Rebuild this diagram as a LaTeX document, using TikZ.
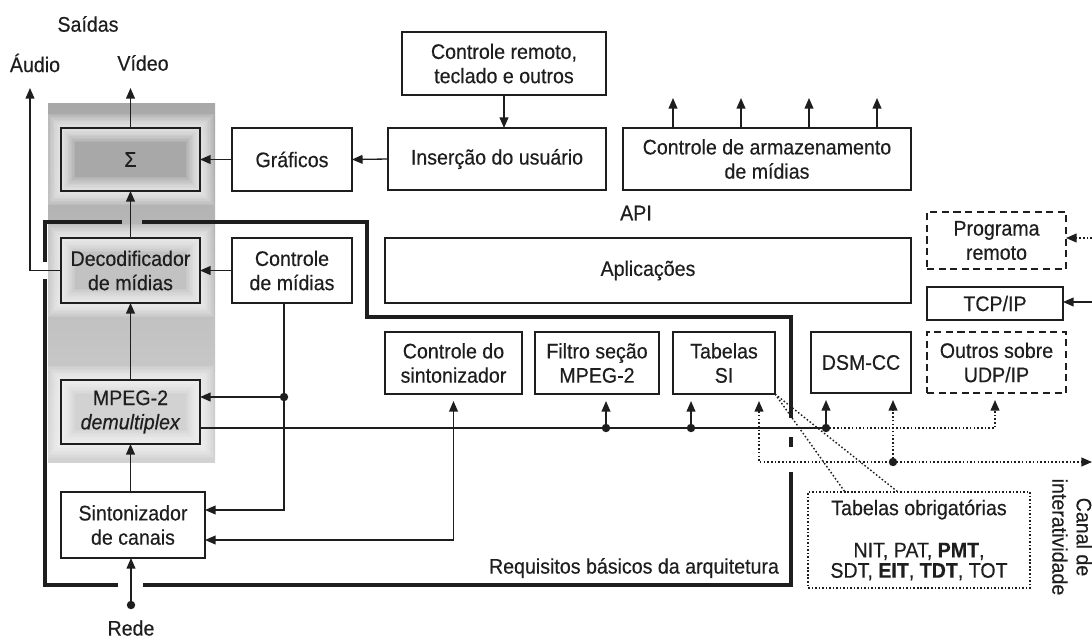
\documentclass[tikz,border=0pt]{standalone}
\usepackage{fontspec}
\setmainfont[FakeStretch=0.93,FakeBold=0.35]{Liberation Sans}
\usetikzlibrary{arrows.meta}
\definecolor{ink}{HTML}{1E1E1E}
\definecolor{gA}{HTML}{A8A8A8}
\definecolor{gB}{HTML}{C2C2C2}
\definecolor{gC}{HTML}{D2D2D2}
\begin{document}
\begin{tikzpicture}[x=0.02cm,y=-0.02cm,
  every node/.style={font=\fontsize{12}{13.8}\selectfont, text=ink},
  box/.style 2 args={draw=ink, line width=0.8pt, inner sep=0pt, outer sep=0pt,
    align=center, minimum width=#1*0.02cm, minimum height=#2*0.02cm},
  gl/.style={preaction={draw=white, line width=#1, draw opacity=0.11}},
  glow/.style={preaction={fill=#1},
    gl=16pt, gl=14.4pt, gl=12.8pt, gl=11.2pt, gl=9.6pt,
    gl=8pt, gl=6.4pt, gl=4.8pt, gl=3.2pt, gl=1.6pt},
  dashbox/.style={dash pattern=on 4pt off 2.6pt},
  dotbox/.style={dash pattern=on 0.9pt off 1.1pt},
  lab/.style={inner sep=0pt},
  arr/.style={-{Triangle[length=6pt,width=5pt]}, draw=ink, line width=0.75pt},
  barr/.style={{Triangle[length=6pt,width=5pt]}-{Triangle[length=6pt,width=5pt]}, draw=ink, line width=0.75pt},
  ln/.style={draw=ink, line width=0.75pt},
  dotln/.style={draw=ink, line width=0.8pt, dash pattern=on 0.9pt off 1.2pt},
  frame/.style={draw=ink, line width=2.2pt, line join=miter},
  dotc/.style={fill=ink}
]
\useasboundingbox (0,0) rectangle (1092,640);
\fill[white] (0,0) rectangle (1092,640);

% gray region
\shade[top color=gA, middle color=gB, bottom color=gC] (48,103) rectangle (215,462);

% boxes in the gray region
\node[box={139}{63}, glow=gA] (sig) at (130.5,159.5) {Σ};
\node[box={139}{65}, glow=gB] (dec) at (130.5,270.5) {Decodificador\\de mídias};
\node[box={139}{64}, glow=gC] (mpeg) at (130.5,412) {MPEG-2\\\textit{demultiplex}};

% other boxes
\node[box={144}{66}, fill=white] (sint) at (133,525) {Sintonizador\\de canais};
\node[box={120}{63}] (graf) at (292,159.5) {Gráficos};
\node[box={218}{62}] (ins) at (497,159) {Inserção do usuário};
\node[box={204}{63}] (crem) at (504,63.5) {Controle remoto,\\teclado e outros};
\node[box={288}{62}] (arm) at (767,159) {Controle de armazenamento\\de mídias};
\node[box={526}{65}] (apl) at (648,270.5) {Aplicações};
\node[box={120}{65}] (cmid) at (292,270.5) {Controle\\de mídias};
\node[box={137}{62}] (csin) at (453.5,363) {Controle do\\sintonizador};
\node[box={124}{62}] (filt) at (597,363) {Filtro seção\\MPEG-2};
\node[box={102}{62}] (tsi) at (724,363) {Tabelas\\SI};
\node[box={100}{61}] (dsm) at (861,362.5) {DSM-CC};
\node[box={139}{61}, dashbox] (outr) at (996.5,362.5) {Outros sobre\\UDP/IP};
\node[box={136}{33}] (tcp) at (995,303.5) {TCP/IP};
\node[box={139}{57}, dashbox] (prog) at (996.5,240.5) {Programa\\remoto};
\node[box={222}{96}, dotbox, font=\fontsize{12}{11.6}\selectfont] (tob) at (919,540)
  {Tabelas obrigatórias\\[12.4pt]NIT, PAT, \textbf{PMT},\\SDT, \textbf{EIT}, \textbf{TDT}, TOT};

% labels
\node[lab] (saidas) at (88,24) {Saídas};
\node[lab] (audiol) at (35,63) {Áudio};
\node[lab] (videol) at (143,63) {Vídeo};
\node[lab] (api) at (636,213) {API};
\node[lab] (rede) at (131,628) {Rede};
\node[lab] (req) at (634,568) {Requisitos básicos da arquitetura};
\node[lab, rotate=-90, align=center] (canal) at (1072,537) {Canal de\\interatividade};

% frame of basic requirements
\draw[frame] (142,222) -- (367,222) -- (367,317) -- (791,317) -- (791,418);
\draw[frame] (791,437) -- (791,447);
\draw[frame] (791,472) -- (791,585) -- (143,585);
\draw[frame] (118,585) -- (45,585) -- (45,279);
\draw[frame] (45,262) -- (45,222) -- (122,222);

% coordinates
\coordinate (audio) at (30,88);
\coordinate (video) at (130.5,88);
\coordinate (j1) at (284,397);
\coordinate (cs) at (284,510);
\coordinate (cs2) at (453.5,540);
\coordinate (busL) at (200,428);
\coordinate (d1) at (606,428);
\coordinate (d2) at (691,428);
\coordinate (d3) at (826,428);
\coordinate (o1) at (995,428);
\coordinate (e0) at (759,462);
\coordinate (e1) at (893,462);
\coordinate (eR) at (1092,462);
\coordinate (r1) at (1092,302);
\coordinate (r2) at (1092,238);
\coordinate (c1) at (845,492);
\coordinate (c2) at (898,492);
\coordinate (redeDot) at (131,605);

% connectors
\draw[arr] (dec.west) -| (audio);
\draw[arr] (sig.north) -- (video);
\draw[arr] (graf.west) -- (sig.east);
\draw[arr] (ins.west) -- (graf.east);
\draw[arr] (crem.south) -- (crem.south |- ins.north);
\foreach \xx in {673,741,809,877}
  \draw[arr] (arm.north -| \xx,0) -- (\xx,98);
\draw[arr] (dec.north) -- (sig.south);
\draw[arr] (cmid.west) -- (dec.east);
\draw[arr] (mpeg.north) -- (dec.south);
\draw[arr] (mpeg.south |- sint.north) -- (mpeg.south);
\draw[arr] (cmid.south -| cs) -- (cs) -- (cs -| sint.east);
\draw[arr] (j1) -- (j1 -| mpeg.east);
\fill[dotc] (j1) circle (2.4pt);
\draw[barr, shorten >=4pt] (cs2 -| sint.east) -- (cs2) -- (csin.south);
\draw[arr] (redeDot) -- (redeDot |- sint.south);
\fill[dotc] (redeDot) circle (2.4pt);

% bus
\draw[ln] (busL) -- (d3);
\draw[arr, shorten >=4pt] (d1) -- (d1 |- filt.south);
\draw[arr, shorten >=4pt] (d2) -- (d2 |- tsi.south);
\draw[arr, shorten >=4pt] (d3) -- (d3 |- dsm.south);
\foreach \p in {d1,d2,d3} \fill[dotc] (\p) circle (2.4pt);
\draw[dotln, -{Triangle[length=6pt,width=5pt]}, shorten >=4pt] (d3) -- (o1) -- (o1 |- outr.south);
\draw[dotln, {Triangle[length=6pt,width=5pt]}-{Triangle[length=6pt,width=5pt]}, shorten <=4pt]
  (e0 |- tsi.south) -- (e0) -- (eR);
\draw[dotln, -{Triangle[length=6pt,width=5pt]}, shorten >=4pt] (e1) -- (e1 |- dsm.south);
\fill[dotc] (e1) circle (2.4pt);

% right side inputs
\draw[arr] (r1) -- (r1 -| tcp.east);
\draw[dotln, -{Triangle[length=6pt,width=5pt]}] (r2) -- (r2 -| prog.east);

% callout
\draw[dotln] (tsi.south east) -- (c1);
\draw[dotln] (tsi.south east) -- (c2);
\end{tikzpicture}
\end{document}
